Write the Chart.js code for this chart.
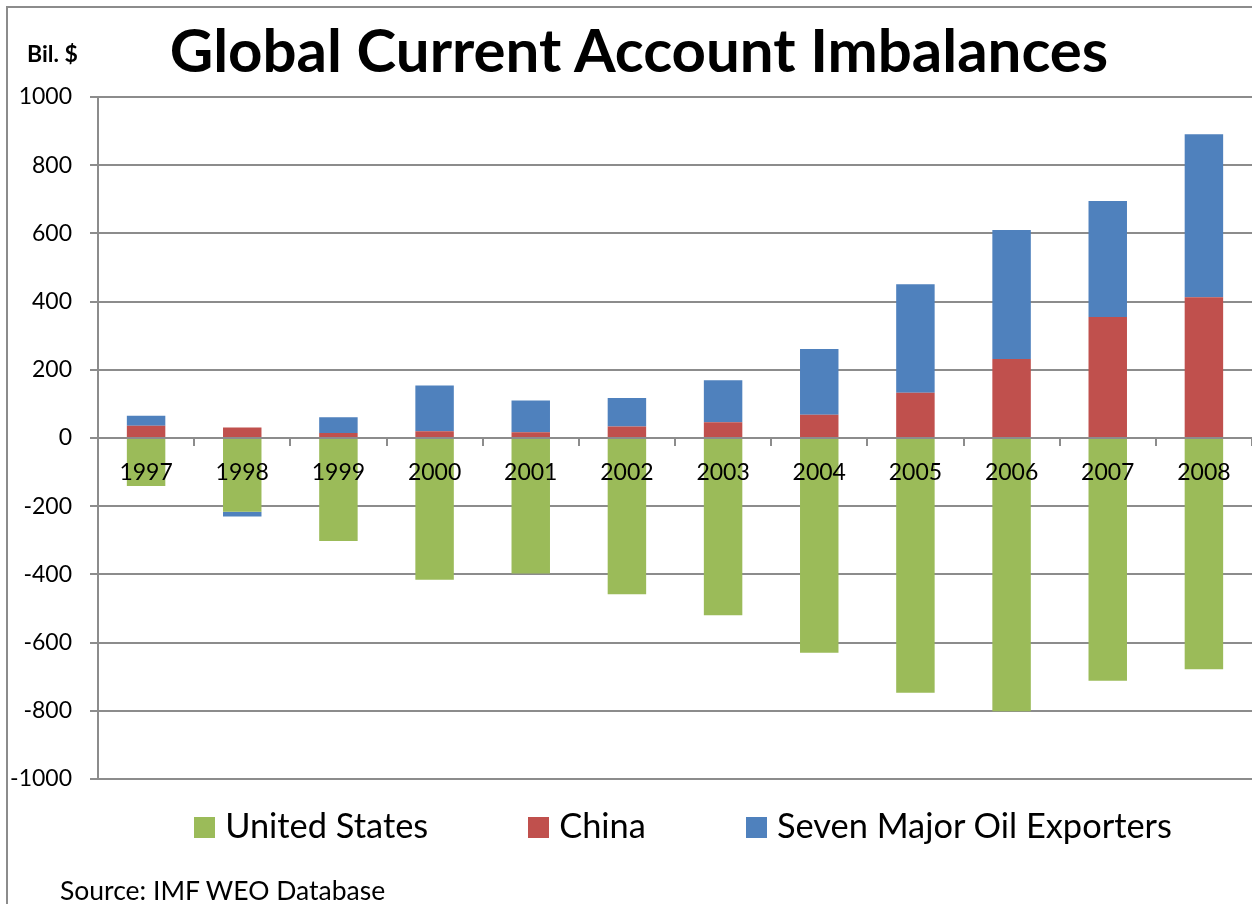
<!DOCTYPE html>
<html>
<head>
<meta charset="utf-8">
<script src="https://cdn.jsdelivr.net/npm/chart.js@4/dist/chart.umd.min.js"></script>
<style>
  html, body { margin: 0; padding: 0; background: #fff; overflow: hidden; }
  body { width: 1252px; height: 904px; position: relative; font-family: Lato, sans-serif; color: #000; }
  #frame { position: absolute; left: 6px; top: 6px; width: 1400px; height: 1000px; border: 2px solid #8c8c8c; box-sizing: border-box; }
  #wrap { position: absolute; left: 0; top: 0; width: 1252px; height: 904px; }
  .txt { position: absolute; line-height: 1; white-space: nowrap; }
  #title { left: 0; width: 1278px; text-align: center; top: 19px; font-size: 60px; font-weight: bold; }
  #unit { left: 27px; top: 42px; font-size: 23px; font-weight: bold; }
  #source { left: 60px; top: 877px; font-size: 26.5px; }
  #legend { position: absolute; left: 106px; width: 1154px; top: 808px; display: flex; justify-content: center; gap: 100px; }
  #legend .item { display: flex; align-items: center; font-size: 34.4px; line-height: 1; }
  #legend .box { width: 21px; height: 21px; margin-right: 10px; margin-top: 4px; }
</style>
</head>
<body>
<div id="frame"></div>
<div id="wrap"><canvas id="imbalanceChart"></canvas></div>
<div class="txt" id="title">Global Current Account Imbalances</div>
<div class="txt" id="unit">Bil. $</div>
<div id="legend"></div>
<div class="txt" id="source">Source: IMF WEO Database</div>
<script>
// data (billions of US$)
const years = ['1997', '1998', '1999', '2000', '2001', '2002', '2003', '2004', '2005', '2006', '2007', '2008'];
const unitedStates = [-141, -216, -302, -416, -397, -458, -520, -630, -747, -801, -712, -678];
const china = [36, 31, 15, 20, 17, 34, 46, 68, 133, 232, 355, 413];
const oilExporters = [29, -14, 46, 134, 93, 83, 123, 193, 318, 378, 340, 478];
const yTicks = [-1000, -800, -600, -400, -200, 0, 200, 400, 600, 800, 1000];

const gridGray = '#8c8c8c';

const ctx = document.getElementById('imbalanceChart').getContext('2d');

const imbalanceChart = new Chart(ctx, {
    type: 'bar',
    data: {
        labels: years,
        datasets: [
            { label: 'United States', data: unitedStates, backgroundColor: '#9BBB59' },
            { label: 'China', data: china, backgroundColor: '#C0504D' },
            { label: 'Seven Major Oil Exporters', data: oilExporters, backgroundColor: '#4F81BD' }
        ]
    },
    options: {
        responsive: true,
        maintainAspectRatio: false,
        animation: false,
        layout: { padding: { top: 97, bottom: 125, left: 0, right: 0 } },
        datasets: {
            bar: { barPercentage: 0.4, categoryPercentage: 1 }
        },
        plugins: {
            legend: { display: false },
            tooltip: { enabled: false }
        },
        scales: {
            x: {
                stacked: true,
                position: { y: 0 },
                grid: { display: true, drawOnChartArea: false, drawTicks: true, tickLength: 7, offset: true, color: gridGray, lineWidth: 2 },
                border: { display: true, color: gridGray, width: 2, z: 1 },
                ticks: { color: '#000', font: { family: 'Lato', size: 23 }, padding: 14, z: 1, maxRotation: 0, autoSkip: false }
            },
            y: {
                stacked: true,
                min: yTicks[0],
                max: yTicks[yTicks.length - 1],
                afterBuildTicks: (scale) => { scale.ticks = yTicks.map(v => ({ value: v })); },
                afterFit: (scale) => { scale.width = 98; },
                grid: { color: gridGray, lineWidth: 2, tickLength: 8 },
                border: { display: true, color: gridGray, width: 2 },
                ticks: {
                    color: '#000',
                    font: { family: 'Lato', size: 23 },
                    padding: 18,
                    callback: (v) => String(v)
                }
            }
        }
    }
});

// legend built from the chart's own datasets
const legendEl = document.getElementById('legend');
Chart.defaults.plugins.legend.labels.generateLabels(imbalanceChart).forEach(item => {
    const div = document.createElement('div');
    div.className = 'item';
    const box = document.createElement('span');
    box.className = 'box';
    box.style.background = item.fillStyle;
    div.appendChild(box);
    div.appendChild(document.createTextNode(item.text));
    legendEl.appendChild(div);
});
</script>
</body>
</html>
